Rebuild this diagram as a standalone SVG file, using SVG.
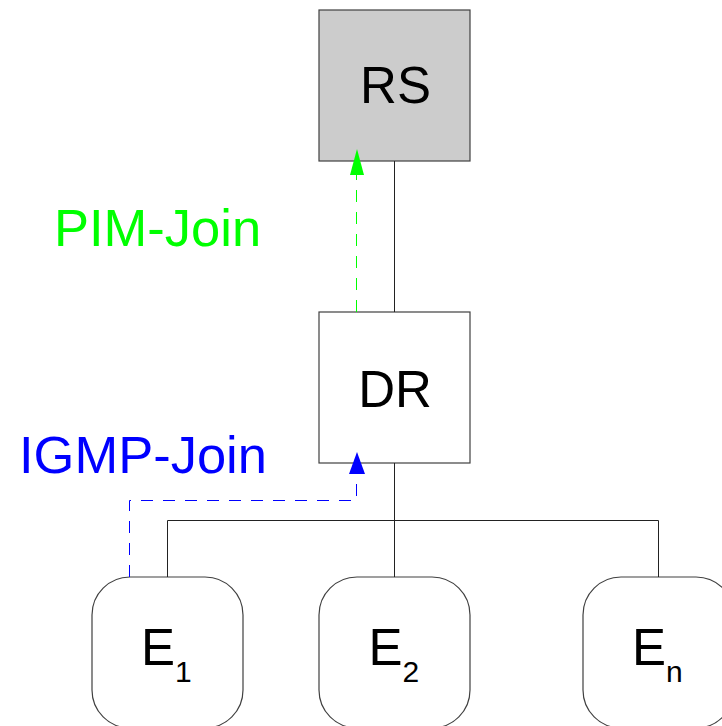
<svg xmlns="http://www.w3.org/2000/svg" width="722" height="726" viewBox="0 0 722 726">
  <style>
    .box { fill: #ffffff; stroke: #404040; stroke-width: 1.2; }
    .rs { fill: #cccccc; }
    .lbl { font-family: "Liberation Sans", Arial, sans-serif; font-size: 51px; fill: #000000; }
    .tag { font-size: 52.5px; }
    .sub { font-size: 30px; }
    .wire { fill: none; stroke: #222222; stroke-width: 1; }
    .pim { fill: none; stroke: #00ff00; stroke-width: 1; stroke-dasharray: 12 10; }
    .igmp { fill: none; stroke: #0000ff; stroke-width: 1; stroke-dasharray: 12 10; }
  </style>
  <rect width="722" height="726" fill="#ffffff"/>

  <g id="RS">
    <rect class="box rs" x="319" y="10" width="151" height="151"/>
    <text class="lbl" x="395.5" y="103" text-anchor="middle">RS</text>
  </g>

  <g id="DR">
    <rect class="box" x="319" y="312" width="151" height="151"/>
    <text class="lbl" x="395" y="407" text-anchor="middle">DR</text>
  </g>

  <g id="E1">
    <rect class="box" x="92" y="577" width="151" height="151" rx="38" ry="38"/>
    <text class="lbl" x="141" y="665">E<tspan class="sub" dy="17">1</tspan></text>
  </g>

  <g id="E2">
    <rect class="box" x="319" y="577" width="151" height="151" rx="38" ry="38"/>
    <text class="lbl" x="368.5" y="665">E<tspan class="sub" dy="17">2</tspan></text>
  </g>

  <g id="En">
    <rect class="box" x="583" y="577" width="151" height="151" rx="38" ry="38"/>
    <text class="lbl" x="632" y="665">E<tspan class="sub" dy="17">n</tspan></text>
  </g>

  <g id="connectors">
    <!-- RS to DR -->
    <line class="wire" x1="394.5" y1="161" x2="394.5" y2="312"/>
    <!-- DR down to shared bus -->
    <line class="wire" x1="394.5" y1="463" x2="394.5" y2="520"/>
    <polyline class="wire" points="167.5,577 167.5,520.5 658.5,520.5 658.5,577"/>
    <line class="wire" x1="394.5" y1="520" x2="394.5" y2="577"/>
    <!-- PIM join toward RS -->
    <line class="pim" x1="356.5" y1="312" x2="356.5" y2="172"/>
    <polygon points="357,149 350,175 364,175" fill="#00ff00"/>
    <!-- IGMP join toward DR -->
    <polyline class="igmp" points="129.5,577 129.5,500.5 356.5,500.5 356.5,472"/>
    <polygon points="357,452 349,474 365,474" fill="#0000ff"/>
  </g>

  <g id="labels">
    <text class="lbl tag" x="54" y="246" style="fill:#00ff00">PIM-Join</text>
    <text class="lbl tag" x="19" y="473" style="fill:#0000ff">IGMP-Join</text>
  </g>
</svg>
